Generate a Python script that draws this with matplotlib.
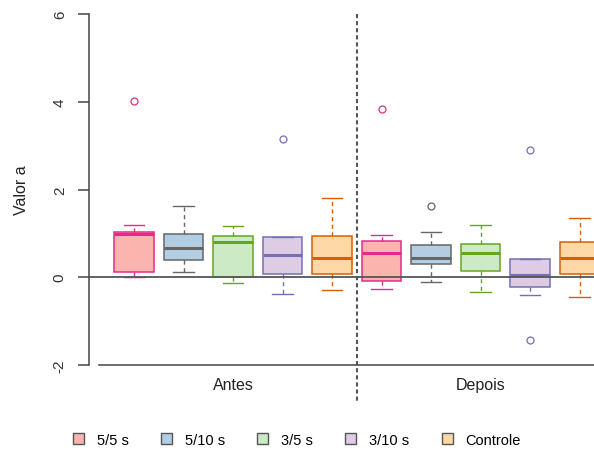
import matplotlib.pyplot as plt
from matplotlib.patches import Patch

plt.rcParams["font.family"] = ["Liberation Sans", "DejaVu Sans"]

# data
groups = ["Antes", "Depois"]
labels = ["5/5 s", "5/10 s", "3/5 s", "3/10 s", "Controle"]

# order: Antes (5 boxes) then Depois (5 boxes)
whislo = [0.00, 0.13, -0.13, -0.39, -0.29, -0.27, -0.11, -0.33, -0.41, -0.44]
q1 = [0.13, 0.39, 0.01, 0.075, 0.075, -0.08, 0.30, 0.14, -0.23, 0.075]
med = [0.98, 0.675, 0.80, 0.515, 0.45, 0.545, 0.45, 0.545, 0.04, 0.45]
q3 = [1.03, 0.98, 0.94, 0.91, 0.95, 0.82, 0.73, 0.75, 0.42, 0.80]
whishi = [1.19, 1.63, 1.17, 0.91, 1.81, 0.96, 1.02, 1.19, 0.42, 1.35]
fliers = [[4.02], [], [], [3.14], [], [3.83], [1.63], [], [2.90, -1.44], []]

fills = ["#FBB4AE", "#B3CDE3", "#CCEBC5", "#DECBE4", "#FED9A6"]
edges = ["#E7298A", "#666666", "#66A61E", "#7570B3", "#D95F02"]


def main():
    fig = plt.figure(figsize=(5.94, 4.52), dpi=100)
    # axes deliberately runs past the right edge, like the reference crop
    ax = fig.add_axes([89 / 594, 86 / 452, 535.6 / 594, 351 / 452])

    positions = list(range(1, 11))
    stats = []
    for i in range(10):
        stats.append(dict(med=med[i], q1=q1[i], q3=q3[i],
                          whislo=whislo[i], whishi=whishi[i], fliers=fliers[i]))

    for i in range(10):
        c = i % 5
        ax.bxp([stats[i]], positions=[positions[i]], widths=0.8,
               patch_artist=True,
               boxprops=dict(facecolor=fills[c], edgecolor=edges[c], linewidth=1.1),
               medianprops=dict(color=edges[c], linewidth=2.2, solid_capstyle="butt"),
               whiskerprops=dict(color=edges[c], linewidth=1.0, linestyle=(0, (3, 2.5))),
               capprops=dict(color=edges[c], linewidth=1.0),
               capwidths=0.42,
               flierprops=dict(marker="o", markerfacecolor="none", markeredgecolor=edges[c],
                               markersize=5, markeredgewidth=0.9),
               manage_ticks=False)

    # zero line over the boxes (as in the reference)
    ax.axhline(0, color="#555555", linewidth=1.3, zorder=5)

    # separator between groups
    ax.plot([5.5, 5.5], [6, -2.82], color="#555555", linewidth=1.5,
            linestyle=(0, (2, 1.4)), clip_on=False, zorder=6)

    ax.set_xlim(0.09, 10.91)
    ax.set_ylim(-2, 6)

    ax.spines["top"].set_visible(False)
    ax.spines["right"].set_visible(False)
    for s in ["left", "bottom"]:
        ax.spines[s].set_color("#444444")
        ax.spines[s].set_linewidth(1.1)
    ax.spines["bottom"].set_bounds(0.29, 10.91)

    ax.set_yticks([-2, 0, 2, 4, 6])
    ax.set_yticklabels(["-2", "0", "2", "4", "6"], rotation=90, va="center")
    ax.tick_params(axis="y", length=8, width=1.1, color="#444444", labelsize=11,
                   labelcolor="#333333", pad=8)

    ax.set_xticks([3, 8])
    ax.set_xticklabels(groups)
    ax.tick_params(axis="x", length=0, labelsize=11.5, labelcolor="#222222", pad=9)

    ax.set_ylabel("Valor a", fontsize=11.5, color="#222222", labelpad=17)

    handles = [Patch(facecolor=fills[i], edgecolor="#555555", linewidth=1.0) for i in range(5)]
    fig.legend(handles, labels, loc="center", bbox_to_anchor=(0.5, 0.025), ncol=5,
               frameon=False, fontsize=10.5, handlelength=0.75, handleheight=0.75,
               handletextpad=0.9, columnspacing=2.2, borderpad=0.2)

    plt.savefig("out.png", dpi=100)


if __name__ == "__main__":
    main()
